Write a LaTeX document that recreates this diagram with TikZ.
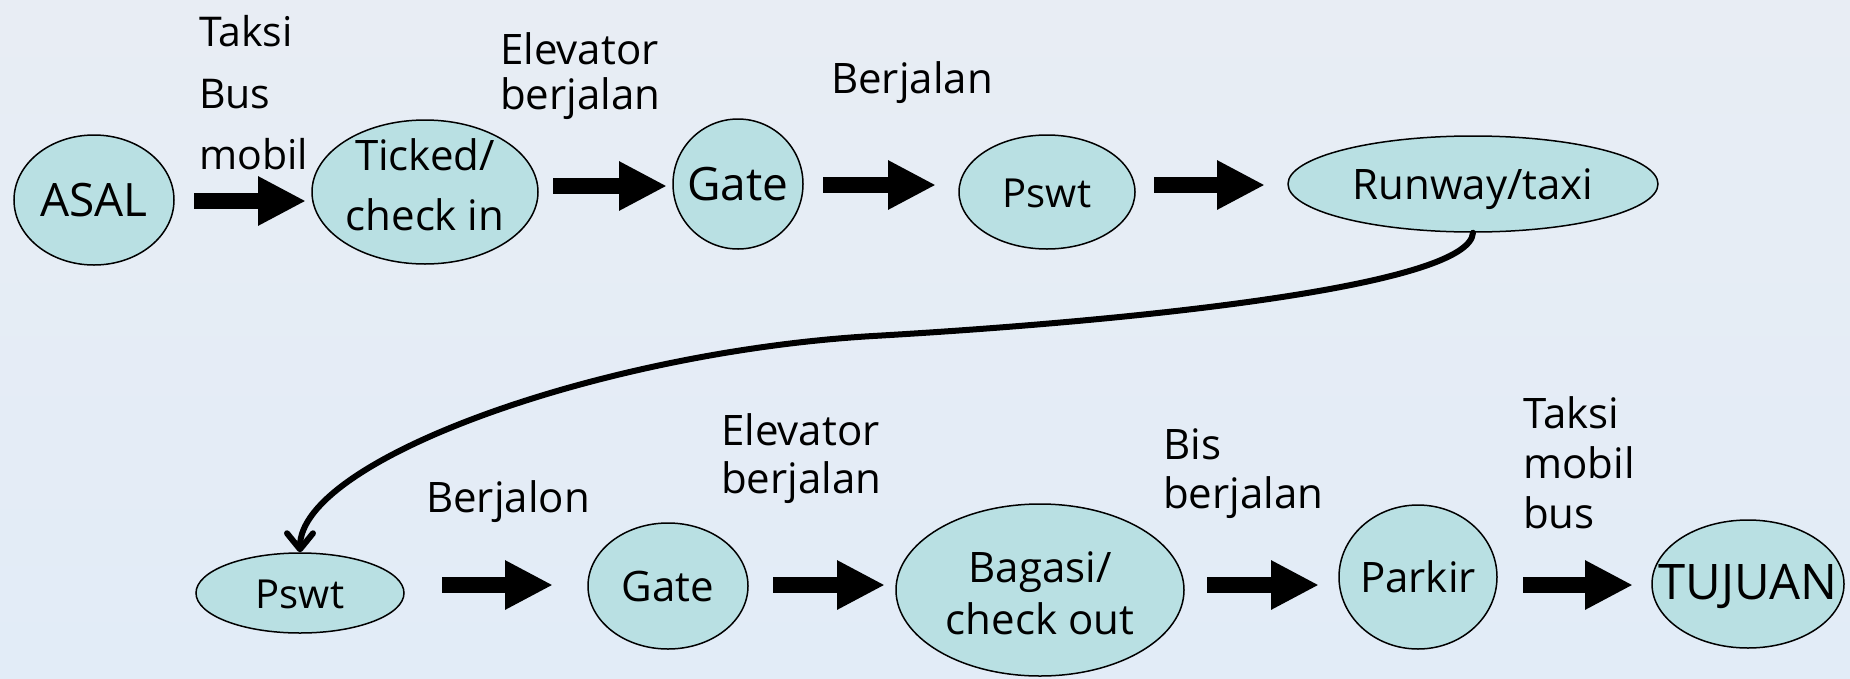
\documentclass[tikz,border=0pt]{standalone}
\usepackage{fontspec}
\setmainfont{Open Sans}
\usetikzlibrary{arrows.meta,shapes.geometric}
\definecolor{ovalfill}{RGB}{185,224,227}
\definecolor{bgtop}{RGB}{232,237,244}
\definecolor{bgmid}{RGB}{240,244,248}
\definecolor{bgbot}{RGB}{226,236,247}
\begin{document}
\begin{tikzpicture}[x=1pt,y=-1pt,
  oval/.style={ellipse, draw=black, line width=1.5pt, fill=ovalfill, inner sep=0pt},
  ovaltext/.style={inner sep=0pt, font=\fontsize{42}{50}\selectfont, text height=30pt, text depth=0pt},
  bigtext/.style={inner sep=0pt, font=\fontsize{46}{54}\selectfont, text height=33pt, text depth=0pt},
  linetext/.style={inner sep=0pt, anchor=base, font=\fontsize{42}{50}\selectfont},
  lbl/.style={inner sep=0pt, anchor=base west, font=\fontsize{42}{50}\selectfont},
  blockarrow/.style={draw=black, line width=16pt, -{Triangle[length=48pt,width=46pt]}},
  curvearrow/.style={draw=black, line width=6pt, line cap=round,
    -{Straight Barb[length=16pt,width=26pt,round]}}]

% canvas
\useasboundingbox (0,0) rectangle (1850,678);
\shade[top color=bgtop, middle color=bgmid, bottom color=bgbot] (0,0) rectangle (1850,678);

% upper row of stations
\node[oval, minimum width=160pt, minimum height=130pt] (asal)  at (94,200)   {};
\node[oval, minimum width=226pt, minimum height=144pt] (tick)  at (425,192)  {};
\node[oval, minimum width=130pt, minimum height=130pt] (gate1) at (738,184)  {};
\node[oval, minimum width=176pt, minimum height=114pt] (pswt1) at (1047,192) {};
\node[oval, minimum width=370pt, minimum height=96pt]  (run)   at (1473,184) {};

\node[bigtext] (asal-t) at (asal) {ASAL};
\node[linetext] (tick-t1) at ([yshift=22pt]tick.center) {Ticked/};
\node[linetext] (tick-t2) at ([yshift=-38pt]tick.center) {check in};
\node[bigtext] (gate1-t) at (gate1) {Gate};
\node[ovaltext, font=\fontsize{40}{48}\selectfont] (pswt1-t) at (pswt1) {Pswt};
\node[ovaltext] (run-t) at (run) {Runway/taxi};

% lower row of stations
\node[oval, minimum width=208pt, minimum height=80pt]  (pswt2) at (300,593)  {};
\node[oval, minimum width=160pt, minimum height=126pt] (gate2) at (668,586)  {};
\node[oval, minimum width=288pt, minimum height=172pt] (bag)   at (1040,590) {};
\node[oval, minimum width=158pt, minimum height=144pt] (park)  at (1418,577) {};
\node[oval, minimum width=192pt, minimum height=128pt] (tuj)   at (1748,584) {};

\node[ovaltext, font=\fontsize{40}{48}\selectfont] (pswt2-t) at (pswt2) {Pswt};
\node[ovaltext] (gate2-t) at (gate2) {Gate};
\node[linetext] (bag-t1) at ([yshift=8pt]bag.center) {Bagasi/};
\node[linetext] (bag-t2) at ([yshift=-44pt]bag.center) {check out};
\node[ovaltext] (park-t) at (park) {Parkir};
\node[ovaltext, font=\fontsize{49}{56}\selectfont] (tuj-t) at (tuj) {TUJUAN};

% transport labels
\node[lbl, font=\fontsize{41}{50}\selectfont] (l1a) at (199,46)  {Taksi};
\node[lbl, font=\fontsize{41}{50}\selectfont] (l1b) at (199,108) {Bus};
\node[lbl, font=\fontsize{41}{50}\selectfont] (l1c) at (199,169) {mobil};
\node[lbl] (l2a) at (500,64)  {Elevator};
\node[lbl] (l2b) at (500,109) {berjalan};
\node[lbl] (l3)  at (831,93)  {Berjalan};
\node[lbl] (l4)  at (426,512) {Berjalon};
\node[lbl] (l5a) at (721,445) {Elevator};
\node[lbl] (l5b) at (721,493) {berjalan};
\node[lbl] (l6a) at (1163,459) {Bis};
\node[lbl] (l6b) at (1163,508) {berjalan};
\node[lbl] (l7a) at (1523,428) {Taksi};
\node[lbl] (l7b) at (1523,478) {mobil};
\node[lbl] (l7c) at (1523,528) {bus};

% arrow end points
\coordinate (a1s) at (194,201);  \coordinate (a1e) at (306,201);
\coordinate (a2s) at (553,186);  \coordinate (a2e) at (667,186);
\coordinate (a3s) at (823,185);  \coordinate (a3e) at (936,185);
\coordinate (a4s) at (1154,185); \coordinate (a4e) at (1265,185);
\coordinate (a5s) at (442,585);  \coordinate (a5e) at (553,585);
\coordinate (a6s) at (773,585);  \coordinate (a6e) at (885,585);
\coordinate (a7s) at (1207,585); \coordinate (a7e) at (1319,585);
\coordinate (a8s) at (1523,585); \coordinate (a8e) at (1633,585);

\draw[blockarrow] (a1s) -- (a1e);
\draw[blockarrow] (a2s) -- (a2e);
\draw[blockarrow] (a3s) -- (a3e);
\draw[blockarrow] (a4s) -- (a4e);
\draw[blockarrow] (a5s) -- (a5e);
\draw[blockarrow] (a6s) -- (a6e);
\draw[blockarrow] (a7s) -- (a7e);
\draw[blockarrow] (a8s) -- (a8e);

% link from the runway down to the arrival apron
\coordinate (bend) at (873,336);
\draw[curvearrow] (run.south) .. controls (1470,285) and (1150,320) .. (bend)
  .. controls (600,352) and (300,460) .. (pswt2.north);
\end{tikzpicture}
\end{document}
